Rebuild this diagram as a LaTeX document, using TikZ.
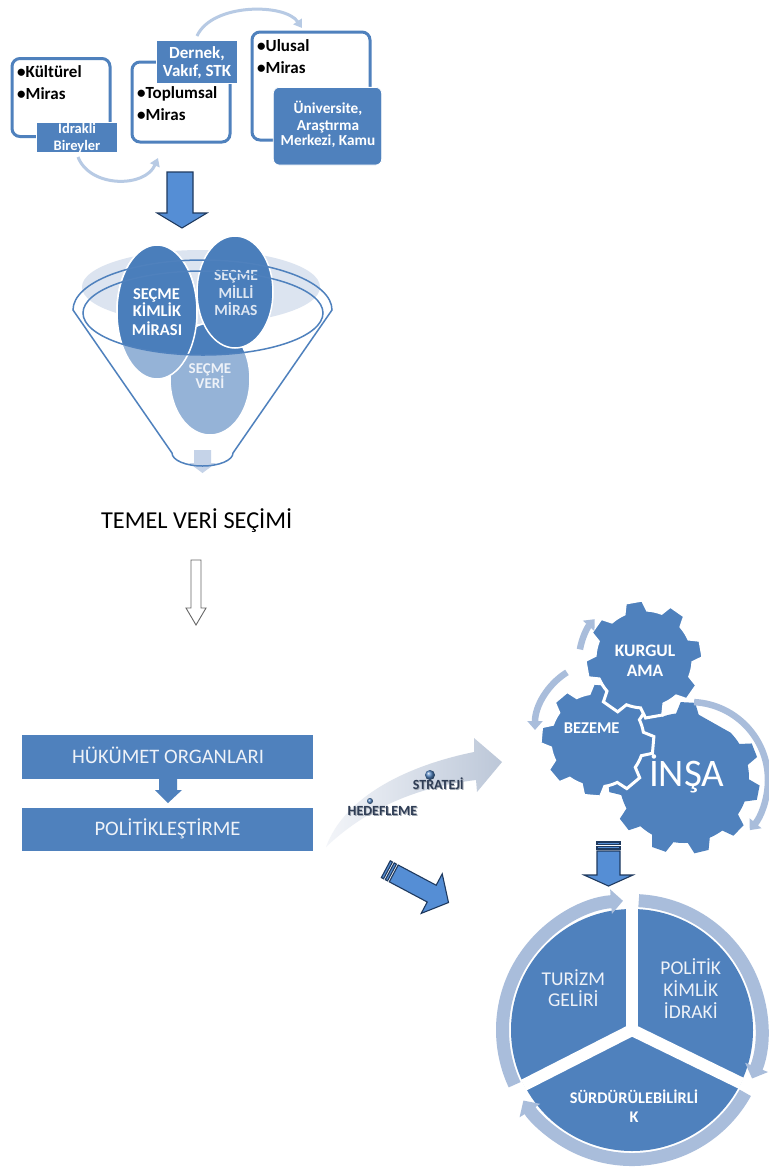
\documentclass[tikz,border=0pt]{standalone}
\usepackage{fontspec}
\setmainfont{Carlito}
\usetikzlibrary{arrows.meta}
\definecolor{mblue}{HTML}{4F81BD}
\definecolor{dblue}{HTML}{4A7EBB}
\definecolor{lblue}{HTML}{95B3D7}
\definecolor{ring}{HTML}{A9BDDB}
\definecolor{ltarr}{HTML}{B7CAE4}
\definecolor{barrow}{HTML}{558ED5}
\definecolor{bline}{HTML}{1F3A5F}
\definecolor{paleell}{HTML}{DCE4F0}
\definecolor{fbot}{HTML}{C5D3E8}
\definecolor{txtl}{HTML}{EEF2F8}
\definecolor{txtm}{HTML}{DDE6F2}
\definecolor{agray}{HTML}{BCC7D8}
\definecolor{awhite}{HTML}{F3F5F9}
\definecolor{navy}{HTML}{2F3D55}
\newcommand\mysz[1]{\fontsize{#1}{#1}\selectfont}
\begin{document}
\begin{tikzpicture}[x=1pt,y=1pt,
  obox/.style={draw=mblue,line width=3pt,rounded corners=8pt,inner sep=0pt},
  fbox/.style={fill=mblue,draw=white,line width=0.8pt,inner sep=0pt},
  blk/.style={inner sep=0pt,anchor=base west,text=black,font=\bfseries\mysz{17}},
  wb/.style={inner sep=0pt,anchor=base,text=white,font=\bfseries\mysz{#1}},
  wl/.style={inner sep=0pt,anchor=base,text=txtl,font=\mysz{#1}},
  nv/.style={inner sep=0pt,anchor=base,text=navy,font=\bfseries\mysz{14}},
  nvs/.style={inner sep=0pt,anchor=base,text=navy!45,font=\bfseries\mysz{14}},
  larr/.style={draw=ltarr,line width=3pt,-{Triangle[length=8pt,width=10pt]}},
  garr/.style={draw=ring,line width=6.5pt,-{Triangle[length=9pt,width=15pt]}},
  rarr/.style={draw=ring,line width=13pt,-{Triangle[length=12pt,width=24pt]}},
  barr/.style={fill=barrow,draw=bline,line width=1.1pt},
  fline/.style={draw=mblue,line width=1.5pt},
  cel/.style={draw=white,line width=1.5pt}
]
\useasboundingbox (0,0) rectangle (769,-1171);
\fill[white] (0,0) rectangle (769,-1171);

% ---------------- top boxes
\node[obox,minimum width=98pt,minimum height=78pt] (kbox) at (61,-97.5) {};
\node[obox,minimum width=98pt,minimum height=80pt] (tbox) at (181,-102) {};
\node[obox,minimum width=118pt,minimum height=108pt] (ubox) at (311,-86) {};
\node[blk] (k1) at (17,-77.3) {•Kültürel};
\node[blk] (k2) at (17,-99.3) {•Miras};
\node[blk] (t1) at (137,-98.3) {•Toplumsal};
\node[blk] (t2) at (137,-120) {•Miras};
\node[blk] (u1) at (257,-51.7) {•Ulusal};
\node[blk] (u2) at (257,-73.3) {•Miras};
\node[fbox,minimum width=80.6pt,minimum height=30pt] (idr) at (77,-137.7) {};
\node[wb=14.5] (idr1) at (77,-133.3) {Idrakli};
\node[wb=14.5] (idr2) at (77,-150.7) {Bireyler};
\node[fbox,minimum width=80.6pt,minimum height=42.6pt] (der) at (197,-62) {};
\node[wb=17] (der1) at (197,-58.3) {Dernek,};
\node[wb=17] (der2) at (197,-76) {Vakıf, STK};
\node[fbox,rounded corners=6pt,minimum width=108.4pt,minimum height=77.7pt] (uni) at (327.5,-126.2) {};
\node[wb=15.3] (uni1) at (328,-113.3) {Üniversite,};
\node[wb=15.3] (uni2) at (328,-130) {Araştırma};
\node[wb=15.3] (uni3) at (328,-145.7) {Merkezi, Kamu};
\coordinate (c1s) at (78,-157);
\coordinate (c1e) at (158,-158);
\draw[larr] (c1s) .. controls (90,-188) and (145,-188) .. (c1e);
\coordinate (c2s) at (197,-36);
\coordinate (c2e) at (302,-28);
\draw[larr] (c2s) .. controls (212,-3) and (285,-3) .. (c2e);

% big down arrow
\filldraw[barr] (167,-172) -- (193,-172) -- (193,-213) -- (207,-213) -- (182,-228) -- (157,-213) -- (167,-213) -- cycle;

% ---------------- funnel
\fill[paleell] (201,-287) ellipse[x radius=119,y radius=37];
\fill[fbot] (194,-450) -- (211,-450) -- (211,-463) -- (216,-463) -- (202.5,-473) -- (189,-463) -- (194,-463) -- cycle;
\filldraw[fill=lblue,cel] (210,-379) ellipse[x radius=40,y radius=56];
\filldraw[fill=lblue,cel] (157,-312) ellipse[x radius=40,y radius=67];
\begin{scope}
\clip (203,-313) ellipse[x radius=120,y radius=42];
\filldraw[fill=dblue,cel] (210,-379) ellipse[x radius=40,y radius=56];
\filldraw[fill=dblue,cel] (157,-312) ellipse[x radius=40,y radius=67];
\end{scope}
\begin{scope}
\clip (0,-313) rectangle (769,0);
\filldraw[fill=dblue,cel] (157,-312) ellipse[x radius=40,y radius=67];
\end{scope}
\filldraw[fill=dblue,cel] (235,-292) ellipse[x radius=38,y radius=56];
\node[wb=16.5] (km1) at (156.5,-299) {SEÇME};
\node[wb=16.5] (km2) at (157,-316.7) {KİMLİK};
\node[wb=16.5] (km3) at (157,-335) {MİRASI};
\node[wb=15.5,text=txtm] (mm1) at (236,-280) {SEÇME};
\node[wb=15.5,text=txtm] (mm2) at (236,-298.3) {MİLLİ};
\node[wb=15.5,text=txtm] (mm3) at (236,-315) {MİRAS};
\node[wb=15,text=txtl] (sv1) at (210,-373.3) {SEÇME};
\node[wb=15,text=txtl] (sv2) at (210,-388.3) {VERİ};
\draw[fline] (73,-310) arc[start angle=180,end angle=0,x radius=129.5,y radius=50] -- (233,-453) arc[start angle=0,end angle=-180,x radius=30.5,y radius=13] -- cycle;
\draw[fline] (203,-313) ellipse[x radius=120,y radius=42];

% ---------------- temel
\node[inner sep=0pt,anchor=base,font=\mysz{24.3}] (temel) at (196.7,-528.3) {TEMEL VERİ SEÇİMİ};
\filldraw[fill=white,draw=black!60,line width=0.9pt] (191,-560) -- (201,-560) -- (201,-608) -- (206,-608) -- (196,-625) -- (186,-608) -- (191,-608) -- cycle;

% ---------------- policy boxes
\node[fill=mblue,inner sep=0pt,minimum width=291pt,minimum height=44pt] (hk) at (167.5,-757) {};
\node[wl=20.6] (hkt) at (168,-763.3) {HÜKÜMET ORGANLARI};
\node[fill=mblue,inner sep=0pt,minimum width=291pt,minimum height=43pt] (pl) at (167.5,-829.5) {};
\node[wl=20.6] (plt) at (167.5,-835) {POLİTİKLEŞTİRME};
\fill[mblue] (159,-779) -- (177,-779) -- (177,-790) -- (182,-790) -- (168,-803) -- (155,-790) -- (159,-790) -- cycle;

% curved gradient arrow
\shade[left color=awhite,right color=agray] (326,-847) .. controls (345,-795) and (410,-765) .. (474,-752) -- (474,-738) -- (502,-762) -- (477,-792) -- (476,-780) .. controls (415,-787) and (365,-810) .. (326,-847) -- cycle;
\shade[ball color=mblue] (430,-775) circle (5);
\shade[ball color=mblue] (370,-801) circle (3);
\node[nvs] (strs) at (439.1,-790.1) {STRATEJİ};
\node[nv] (str) at (438.3,-789.3) {STRATEJİ};
\node[nvs] (heds) at (383.3,-816.5) {HEDEFLEME};
\node[nv] (hed) at (382.5,-815.7) {HEDEFLEME};

% diagonal striped arrow
\begin{scope}[shift={(385.8,-869.2)},rotate=-28]
\filldraw[barr] (0,-9.5) rectangle (2.5,9.5);
\filldraw[barr] (4.5,-9.5) rectangle (7,9.5);
\filldraw[barr] (9,-9.5) -- (52,-9.5) -- (52,-22.4) -- (71,0) -- (52,22.4) -- (52,9.5) -- (9,9.5) -- cycle;
\end{scope}

% ---------------- gears
\begin{scope}[shift={(684,-778)}]
\fill[mblue] ({87-10}:65) \foreach \a in {87,119.727,...,414} { -- ({\a-5.5}:76) -- ({\a+5.5}:76) -- ({\a+10}:65) arc[start angle=\a+10,end angle=\a+22.727,radius=65] } -- cycle;
\end{scope}
\begin{scope}[shift={(597,-740)}]
\filldraw[fill=mblue,draw=white,line width=3pt] ({-95-14.5}:47) \foreach \a in {-95,-50,...,220} { -- ({\a-8.5}:57) -- ({\a+8.5}:57) -- ({\a+14.5}:47) arc[start angle=\a+14.5,end angle=\a+30.5,radius=47] } -- cycle;
\end{scope}
\begin{scope}[shift={(644,-659)}]
\filldraw[fill=mblue,draw=white,line width=3pt] ({100-14}:49) \foreach \a in {100,145,...,415} { -- ({\a-8.5}:59) -- ({\a+8.5}:59) -- ({\a+14}:49) arc[start angle=\a+14,end angle=\a+31,radius=49] } -- cycle;
\end{scope}
\draw[garr] (690,-780) ++(87:78) arc[start angle=87,end angle=-40,radius=78];
\draw[garr] (603,-730) ++(122:68) arc[start angle=122,end angle=180,radius=68];
\draw[garr] (640,-660) ++(170:61) arc[start angle=170,end angle=138,radius=61];
\node[wb=17.5] (kg1) at (645,-656.7) {KURGUL};
\node[wb=17.5] (kg2) at (645,-676.7) {AMA};
\node[wb=16.5] (bz) at (591.7,-733.3) {BEZEME};
\node[inner sep=0pt,anchor=base,text=white,font=\mysz{39}] (insa) at (686.7,-786.7) {İNŞA};

% cycle down arrow
\filldraw[barr] (597,-842) rectangle (620,-844.5);
\filldraw[barr] (597,-846.5) rectangle (620,-849);
\filldraw[barr] (597,-851) -- (620,-851) -- (620,-875) -- (633,-875) -- (608.5,-886) -- (584,-875) -- (597,-875) -- cycle;

% ---------------- cycle
\coordinate (cc) at (632,-1030);
\fill[mblue] (cc) circle (121);
\draw[rarr] (cc) ++(205:129.5) arc[start angle=205,end angle=94,radius=129.5];
\draw[rarr] (cc) ++(87:129.5) arc[start angle=87,end angle=-22,radius=129.5];
\draw[rarr] (cc) ++(-29:129.5) arc[start angle=-29,end angle=-147,radius=129.5];
\draw[white,line width=12pt] (cc) -- ++(90:121.5);
\draw[white,line width=12pt] (cc) -- ++(207:121.5);
\draw[white,line width=12pt] (cc) -- ++(-26:121.5);
\fill[white] (cc) circle (6);
\node[wl=19.5] (tz1) at (573.3,-985) {TURİZM};
\node[wl=19.5] (tz2) at (573.3,-1006.7) {GELİRİ};
\node[wl=19.5] (pk1) at (690.8,-974) {POLİTİK};
\node[wl=19.5] (pk2) at (690.8,-996.7) {KİMLİK};
\node[wl=19.5] (pk3) at (690.8,-1018.3) {İDRAKİ};
\node[wb=16.3] (sd1) at (634,-1103.3) {SÜRDÜRÜLEBİLİRLİ};
\node[wb=16.3] (sd2) at (634,-1122.7) {K};
\end{tikzpicture}
\end{document}
